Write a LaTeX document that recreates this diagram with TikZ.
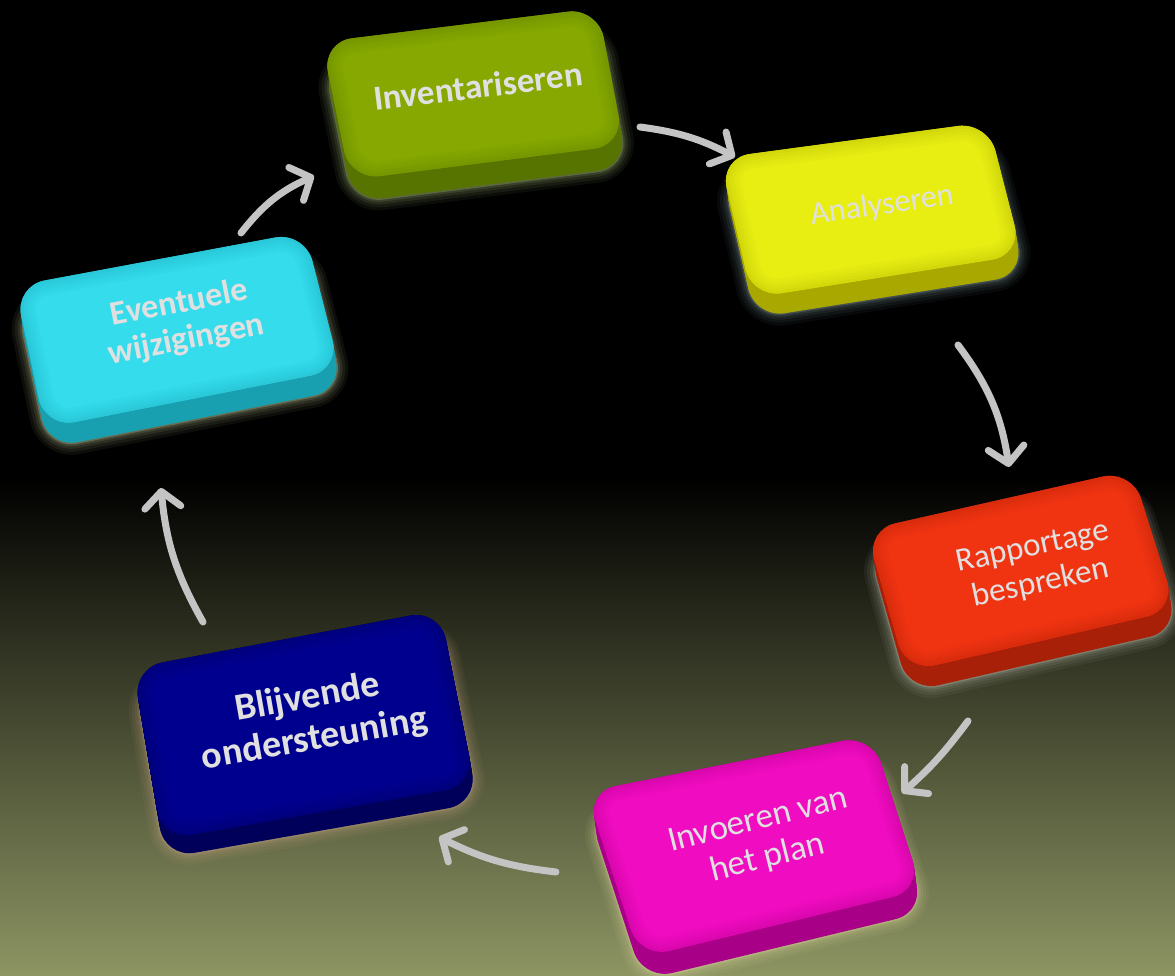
\documentclass[tikz,border=0pt]{standalone}
\usepackage{fontspec}
\setmainfont{Carlito}
\usetikzlibrary{arrows.meta}
\definecolor{bgbot}{HTML}{8D9563}
\definecolor{arrgray}{HTML}{C4C4C4}
\definecolor{lblgray}{HTML}{E0E0E0}
\definecolor{gface}{HTML}{86A800}\definecolor{gside}{HTML}{587400}\definecolor{gglow}{HTML}{C8E090}
\definecolor{yface}{HTML}{E8EE12}\definecolor{yside}{HTML}{A8A800}\definecolor{yglow}{HTML}{90A8B0}
\definecolor{rface}{HTML}{F03412}\definecolor{rside}{HTML}{A82008}\definecolor{rglow}{HTML}{D0D0C0}
\definecolor{mface}{HTML}{F00CC0}\definecolor{mside}{HTML}{A80086}\definecolor{mglow}{HTML}{E8E0A0}
\definecolor{nface}{HTML}{00008E}\definecolor{nside}{HTML}{00005A}\definecolor{nglow}{HTML}{D0A888}
\definecolor{cface}{HTML}{34DCEC}\definecolor{cside}{HTML}{18A0B0}\definecolor{cglow}{HTML}{E0E8B0}
% #1 face, #2 side, #3 glow, #4 depth, #5-#8 corners
\newcommand\slab[8]{%
  \foreach \w/\o in {24/0.06,18/0.07,12/0.09,7/0.12,3/0.25}
    \draw[#3, line width=\w pt, opacity=\o, rounded corners=30pt, shift={(3,#4)}] #5 -- #6 -- #7 -- #8 -- cycle;
  \foreach \s in {0,0.1,...,1.01}
    \fill[#2, rounded corners=30pt, shift={(3*\s,#4*\s)}] #5 -- #6 -- #7 -- #8 -- cycle;
  \fill[#1, rounded corners=30pt] #5 -- #6 -- #7 -- #8 -- cycle;
  \begin{scope}
    \clip[rounded corners=30pt] #5 -- #6 -- #7 -- #8 -- cycle;
    \foreach \w/\o in {30/0.05,24/0.05,18/0.06,12/0.07,6/0.09}
      \draw[#2, line width=\w pt, opacity=\o, rounded corners=30pt] #5 -- #6 -- #7 -- #8 -- cycle;
  \end{scope}}
% #1 name, #2 position x,y, #3 rotation, #4 font, #5 text
\newcommand\lab[5]{%
  \node[lbl, rotate=#3, font={#4}] (#1) at (#2) {#5};}
\begin{document}
\begin{tikzpicture}[x=1pt,y=-1pt,
  arr/.style={draw=arrgray, line width=7pt, line cap=round,
    -{Straight Barb[length=16pt,width=36pt,round]}},
  lbl/.style={text=lblgray, align=center, inner sep=0pt}]
\useasboundingbox (0,0) rectangle (1175,976);
% background
\fill[black] (0,0) rectangle (1175,976);
\shade[top color=black, bottom color=bgbot] (0,478) rectangle (1175,976);
% boxes
\slab{gface}{gside}{gglow}{22}{(322,42)}{(598,8)}{(624,145)}{(350,180)}
\slab{yface}{yside}{yglow}{20}{(720,158)}{(988,122)}{(1022,255)}{(752,298)}
\slab{rface}{rside}{rglow}{20}{(866,530)}{(1132,470)}{(1176,610)}{(906,672)}
\slab{mface}{mside}{mglow}{22}{(586,792)}{(872,735)}{(922,890)}{(640,958)}
\slab{nface}{nside}{nglow}{18}{(133,668)}{(440,610)}{(475,785)}{(162,840)}
\slab{cface}{cside}{cglow}{20}{(15,286)}{(305,232)}{(340,370)}{(45,428)}
% labels
\lab{inv}{478,86}{7}{\fontsize{35}{39}\selectfont\bfseries}{Inventariseren}
\lab{ana}{882,206}{8}{\fontsize{32}{36}\selectfont\color{black!38}}{Analyseren}
\lab{rap}{1037,566}{12}{\fontsize{33}{37}\selectfont}{Rapportage\\bespreken}
\lab{invo}{763,840}{14}{\fontsize{35}{39}\selectfont}{Invoeren van\\het plan}
\lab{blij}{311,719}{10}{\fontsize{38}{42}\selectfont\bfseries}{Blijvende\\ondersteuning}
\lab{eve}{183,322}{11}{\fontsize{34}{37}\selectfont\bfseries}{Eventuele\\wijzigingen}
% arrow ends
\coordinate (a1s) at (640,127); \coordinate (a1e) at (735,157);
\coordinate (a2s) at (958,345); \coordinate (a2e) at (1009,467);
\coordinate (a3s) at (968,721); \coordinate (a3e) at (902,793);
\coordinate (a4s) at (556,872); \coordinate (a4e) at (439,837);
\coordinate (a5s) at (203,622); \coordinate (a5e) at (161,488);
\coordinate (a6s) at (241,233); \coordinate (a6e) at (314,176);
\draw[arr] (a1s) to[bend left=10] (a1e);
\draw[arr] (a2s) to[bend left=14] (a2e);
\draw[arr] (a3s) to[bend left=6] (a3e);
\draw[arr] (a4s) to[bend left=10] (a4e);
\draw[arr] (a5s) to[bend left=12] (a5e);
\draw[arr] (a6s) to[bend left=14] (a6e);
\end{tikzpicture}
\end{document}
